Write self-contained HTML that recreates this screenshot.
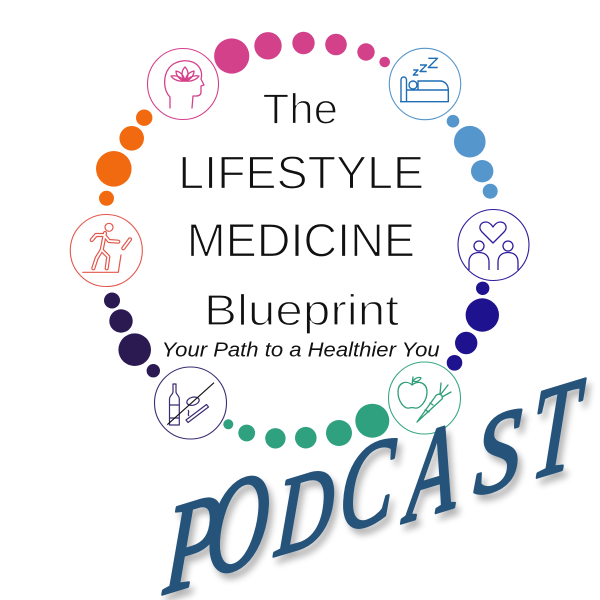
<!DOCTYPE html>
<html><head><meta charset="utf-8">
<style>
html,body{margin:0;padding:0;background:#fff;}
svg{display:block;}
</style></head>
<body>
<svg width="600" height="600" viewBox="0 0 600 600" xmlns="http://www.w3.org/2000/svg">
<defs>
<filter id="sh" x="-20%" y="-20%" width="140%" height="140%">
<feGaussianBlur in="SourceAlpha" stdDeviation="3.5"/>
<feOffset dx="4" dy="6" result="b"/>
<feComponentTransfer><feFuncA type="linear" slope="0.3"/></feComponentTransfer>
<feMerge><feMergeNode/><feMergeNode in="SourceGraphic"/></feMerge>
</filter>
</defs>
<rect width="600" height="600" fill="#fff"/>

<!-- pink dots -->
<g fill="#D4418B">
<circle cx="231.7" cy="56" r="17.6"/>
<circle cx="268" cy="45.8" r="13.7"/>
<circle cx="303.5" cy="43" r="11.2"/>
<circle cx="336" cy="44.5" r="10.8"/>
<circle cx="366" cy="52" r="8.7"/>
<circle cx="384.7" cy="62" r="5.3"/>
</g>
<!-- blue dots -->
<g fill="#5596CC">
<circle cx="453" cy="121.2" r="6.3"/>
<circle cx="469.8" cy="141.7" r="15.8"/>
<circle cx="482.2" cy="171.2" r="11.2"/>
<circle cx="490.2" cy="191.2" r="7.5"/>
</g>
<!-- indigo dots -->
<g fill="#1F128F">
<circle cx="482.7" cy="288.3" r="6.7"/>
<circle cx="482.3" cy="315" r="16.7"/>
<circle cx="466.2" cy="343" r="11.2"/>
<circle cx="454.5" cy="362.8" r="7.8"/>
</g>
<!-- green dots -->
<g fill="#2FA17F">
<circle cx="228.3" cy="424.3" r="5"/>
<circle cx="246.7" cy="433" r="8.4"/>
<circle cx="275.4" cy="438.3" r="10.2"/>
<circle cx="305.8" cy="437.7" r="10.8"/>
<circle cx="339" cy="433" r="13"/>
<circle cx="372.3" cy="420.7" r="17"/>
</g>
<!-- navy dots -->
<g fill="#2B1A52">
<circle cx="112" cy="300.5" r="8"/>
<circle cx="121" cy="321" r="11.7"/>
<circle cx="134.7" cy="349.7" r="16.3"/>
<circle cx="153.3" cy="370.7" r="6.7"/>
</g>
<!-- orange dots -->
<g fill="#F26A10">
<circle cx="144.2" cy="117.7" r="8.2"/>
<circle cx="131.7" cy="138.3" r="12.3"/>
<circle cx="113.8" cy="168.8" r="17.8"/>
<circle cx="106.5" cy="198.3" r="7.5"/>
</g>

<!-- Mind icon -->
<g fill="none" stroke="#D4418B" stroke-width="1.3" stroke-linejoin="round" stroke-linecap="round">
<circle cx="183" cy="84" r="35.5" stroke-width="1.1"/>
<path d="M170,108 L170,97 C163,90 163,76 169,68 C176,59 193,58 199,67 C202,71 202,76 201,79 L204,85 L201,86 L201,92 C201,95 199,96 196,96 L193,96 L192,108"/>
<path d="M185,81 C181,77 181,71 185,67 C189,71 189,77 185,81 Z"/>
<path d="M185,81 C180,80 176,76 176,71 C181,72 184,76 185,81"/>
<path d="M185,81 C190,80 194,76 194,71 C189,72 186,76 185,81"/>
<path d="M185,81 C178,82 173,79 171,76 C176,75 181,77 185,81"/>
<path d="M185,81 C192,82 197,79 199,76 C194,75 189,77 185,81"/>
</g>

<!-- Sleep icon -->
<circle cx="425" cy="84" r="35.7" fill="none" stroke="#5596CC" stroke-width="1.1"/>
<g fill="none" stroke="#1F6DB5" stroke-width="1.4" stroke-linejoin="round">
<path d="M401,102 L401,80 C401,76 406.5,76 406.5,80 L406.5,102"/>
<path d="M400,101.7 L448.3,101.7 L448.3,90 L406.5,90"/>
<path d="M418,90 L418,81 L440,81 C445,81 448.3,85 448.3,90"/>
<circle cx="413" cy="85" r="4"/>
<path d="M413.3,70 L418,70 L413.3,75 L418.3,75"/>
<path d="M420,65 L426.5,65 L420,71.5 L426.7,71.5"/>
<path d="M428.3,58.3 L437.5,58.3 L428.3,67.5 L437.7,67.5"/>
</g>

<!-- Relationship icon -->
<g fill="none" stroke="#2D1C9C" stroke-width="1.3" stroke-linejoin="round">
<circle cx="493.5" cy="245" r="35.5" stroke-width="1.1"/>
<path d="M493,243 L482,232 C478,228 480,222 486,222 C489,222 491,224 493,227 C495,224 497,222 500,222 C506,222 508,228 504,232 Z"/>
<circle cx="479" cy="246" r="5"/>
<path d="M469,270 L469,262 C469,255 474,252.5 479,252.5 C484,252.5 489,255 489,262 L489,270"/>
<circle cx="508" cy="246" r="5"/>
<path d="M498,270 L498,262 C498,255 503,252.5 508,252.5 C513,252.5 518,255 518,262 L518,270"/>
</g>

<!-- Exercise icon -->
<circle cx="106.3" cy="250.5" r="36" fill="none" stroke="#E2574C" stroke-width="1.1"/>
<g fill="none" stroke-linecap="round" stroke-linejoin="round">
<g stroke="#E2574C" stroke-width="4.2">
<path d="M105,233 L101.7,250"/>
<path d="M104,235 L109,241 L118.3,241.7"/>
<path d="M104,235 L96,235 L91.7,240"/>
<path d="M101.7,250 L108.3,256.7 L106.7,268.3"/>
<path d="M101.7,250 L96.7,258 L93.3,268.3"/>
<path d="M123.3,248.3 L130,239.3"/>
</g>
<g stroke="#fff" stroke-width="1.8">
<path d="M105,233 L101.7,250"/>
<path d="M104,235 L109,241 L118.3,241.7"/>
<path d="M104,235 L96,235 L91.7,240"/>
<path d="M101.7,250 L108.3,256.7 L106.7,268.3"/>
<path d="M101.7,250 L96.7,258 L93.3,268.3"/>
<path d="M123.3,248.3 L130,239.3"/>
</g>
<circle cx="109" cy="227.3" r="4" stroke="#E2574C" stroke-width="1.2"/>
<path d="M82.7,272.3 L118.3,272.3 L121,255" stroke="#E2574C" stroke-width="1.2"/>
</g>

<!-- Substance icon -->
<g fill="none" stroke="#3D2C72" stroke-width="1.2" stroke-linejoin="round">
<circle cx="190.5" cy="403" r="36" stroke-width="1.1"/>
<path d="M173,384 L176,384 L176,392 C176,394 179.3,396 179.3,399 L179.3,425 L169.5,425 L169.5,399 C169.5,396 173,394 173,392 Z"/>
<path d="M169.5,405 L179.3,405 M169.5,418 L179.3,418"/>
<ellipse cx="193" cy="401.2" rx="6.3" ry="4" transform="rotate(-15 193 401.2)"/>
<path d="M186,420 L206.5,404.5 L208.5,407 L188,422.5 Z"/>
<path d="M189,416 C187,414 190,412 188,410"/>
</g>
<line x1="167.3" y1="424.7" x2="214" y2="382.7" stroke="#111" stroke-width="1.1"/>

<!-- Nutrition icon -->
<g fill="none" stroke="#2E9D7A" stroke-width="1.3" stroke-linejoin="round" stroke-linecap="round">
<circle cx="424.5" cy="398" r="36" stroke="#3AA887" stroke-width="1.1"/>
<path d="M412,385 C407,380 398,382 398,392 C398,401 404,409 409,408 C411,407.5 413,407.5 415,408 C420,409 427,401 427,392 C427,382 417,380 412,385 Z"/>
<path d="M412,385 L413,377"/>
<path d="M413,381 C416,377 420,377 421,378 C419,382 415,382 413,381 Z"/>
<path d="M417,422 L436,395.5 C439,392.5 444,395.5 442,399 Z"/>
<path d="M425,410 L429,412 M430,403 L433,405"/>
<path d="M440,394 L441,383 M441,394 L448,385 M442,397 L451,392"/>
</g>

<!-- Title text -->
<g font-family="'Liberation Sans', Arial, sans-serif" fill="#111" stroke="#fff" stroke-width="1.3">
<text x="262.5" y="123.5" font-size="43" textLength="75.5" lengthAdjust="spacingAndGlyphs">The</text>
<text x="178.3" y="188.5" font-size="46.5" textLength="245.7" lengthAdjust="spacingAndGlyphs">LIFESTYLE</text>
<text x="186.7" y="256.7" font-size="47" textLength="228.3" lengthAdjust="spacingAndGlyphs">MEDICINE</text>
<text x="204" y="325" font-size="44" textLength="195" lengthAdjust="spacingAndGlyphs">Blueprint</text>
</g>
<text x="161.7" y="356.7" font-family="'Liberation Sans', Arial, sans-serif" font-style="italic" font-size="20.5" fill="#111" textLength="278" lengthAdjust="spacingAndGlyphs">Your Path to a Healthier You</text>

<!-- PODCAST -->
<g font-family="'Liberation Serif', 'DejaVu Serif', serif" font-style="italic" fill="#28537A" stroke="#28537A" stroke-width="3" stroke-linejoin="round" text-anchor="middle" filter="url(#sh)">
<text transform="translate(193,545) rotate(-17) skewX(-20) scale(0.8,1)" x="0" y="38" font-size="120">P</text>
<text transform="translate(238,526) rotate(-17) skewX(-20) scale(0.72,1)" x="0" y="40" font-size="126">O</text>
<text transform="translate(305,512) rotate(-17) skewX(-20) scale(0.8,1)" x="0" y="33" font-size="104">D</text>
<text transform="translate(367,487) rotate(-17) skewX(-20) scale(0.74,1)" x="0" y="36" font-size="114">C</text>
<text transform="translate(432,474) rotate(-17) skewX(-20) scale(0.7,1)" x="0" y="38" font-size="120">A</text>
<text transform="translate(498,453) rotate(-17) skewX(-20) scale(0.9,1)" x="0" y="34" font-size="106">S</text>
<text transform="translate(555,432) rotate(-17) skewX(-20) scale(0.72,1)" x="0" y="38" font-size="122">T</text>
</g>
</svg>
</body></html>
